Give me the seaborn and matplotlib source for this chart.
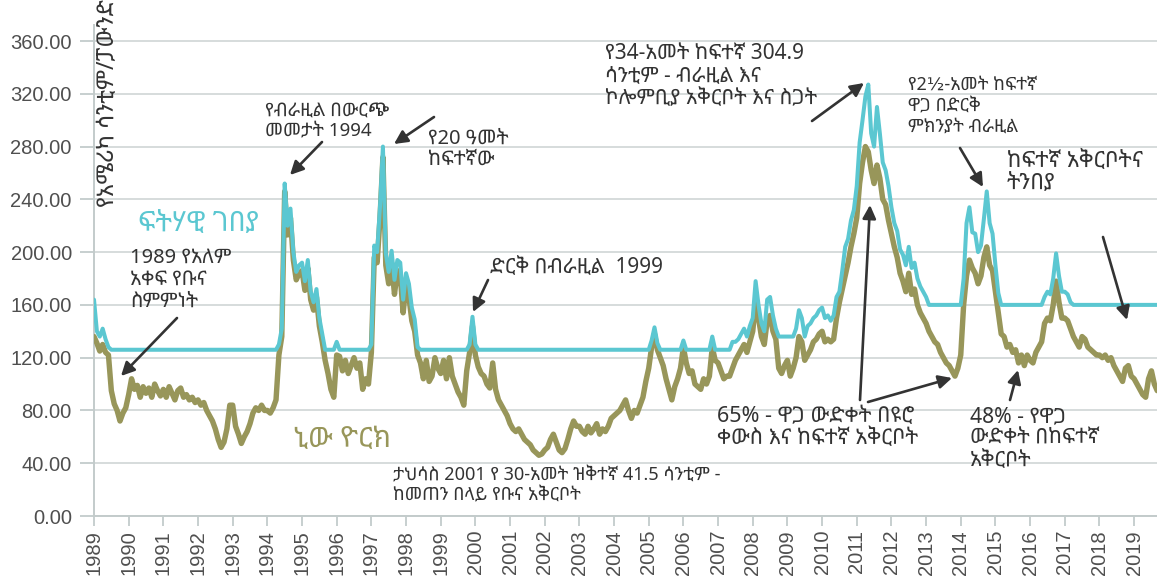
import numpy as np
import pandas as pd
import matplotlib
matplotlib.use("Agg")
import matplotlib.pyplot as plt
import seaborn as sns
from matplotlib import font_manager as fm
from matplotlib.ft2font import FT2Font

# ---------------- data (US cents / lb, monthly from Jan 1989) ----------------
start_year = 1989
ny_cents = [
    136, 131, 125, 130, 124, 122, 95, 85, 80, 72, 78, 82,          # 1989
    92, 104, 96, 99, 90, 98, 93, 97, 90, 100, 95, 91,              # 1990
    96, 90, 98, 93, 88, 95, 97, 90, 92, 88, 90, 86,                # 1991
    88, 84, 86, 80, 76, 72, 66, 58, 52, 56, 66, 84,                # 1992
    84, 68, 62, 55, 60, 64, 70, 78, 82, 80, 84, 80,                # 1993
    80, 78, 82, 88, 122, 136, 246, 213, 226, 194, 179, 184,        # 1994
    186, 171, 188, 164, 156, 166, 144, 132, 118, 108, 96, 90,      # 1995
    122, 121, 110, 118, 108, 114, 120, 112, 116, 96, 104, 100,     # 1996
    124, 196, 192, 226, 272, 190, 176, 192, 168, 186, 182, 154,    # 1997
    176, 166, 148, 140, 122, 116, 104, 118, 102, 106, 120, 112,    # 1998
    108, 118, 104, 120, 106, 100, 94, 90, 84, 110, 124, 144,       # 1999
    122, 113, 108, 106, 100, 97, 116, 96, 88, 84, 80, 76,          # 2000
    70, 66, 64, 66, 62, 58, 56, 54, 50, 48, 46, 47,                # 2001
    50, 52, 58, 62, 56, 50, 48, 51, 58, 66, 72, 68,                # 2002
    68, 64, 62, 68, 63, 66, 70, 62, 66, 64, 68, 74,                # 2003
    76, 78, 80, 84, 88, 80, 74, 80, 78, 84, 90, 102,               # 2004
    112, 128, 138, 126, 120, 114, 104, 96, 88, 98, 104, 112,       # 2005
    128, 116, 108, 110, 100, 98, 96, 104, 100, 106, 128, 118,      # 2006
    116, 110, 104, 106, 106, 112, 118, 122, 126, 130, 124, 132,    # 2007
    140, 162, 150, 136, 130, 148, 152, 140, 134, 112, 108, 114,    # 2008
    118, 106, 112, 120, 136, 132, 118, 122, 126, 132, 134, 138,    # 2009
    140, 132, 134, 132, 134, 150, 162, 172, 182, 192, 204, 214,    # 2010
    226, 252, 268, 280, 276, 262, 252, 266, 256, 240, 236, 224,    # 2011
    214, 204, 196, 184, 178, 170, 184, 168, 172, 160, 154, 150,    # 2012
    146, 140, 136, 132, 130, 124, 120, 116, 114, 110, 106, 112,    # 2013
    122, 160, 182, 194, 188, 184, 176, 182, 196, 204, 190, 186,    # 2014
    170, 154, 138, 136, 128, 130, 124, 126, 116, 122, 114, 122,    # 2015
    118, 116, 124, 128, 132, 146, 150, 148, 160, 178, 162, 150,    # 2016
    150, 148, 142, 136, 132, 128, 136, 134, 128, 126, 124, 122,    # 2017
    122, 120, 122, 118, 120, 114, 110, 106, 102, 112, 114, 106,    # 2018
    104, 100, 96, 92, 90, 104, 110, 100, 95,                       # 2019
]
fairtrade_cents = [
    164, 140, 136, 142, 134, 128, 126, 126, 126, 126, 126, 126,    # 1989
    126, 126, 126, 126, 126, 126, 126, 126, 126, 126, 126, 126,    # 1990
    126, 126, 126, 126, 126, 126, 126, 126, 126, 126, 126, 126,    # 1991
    126, 126, 126, 126, 126, 126, 126, 126, 126, 126, 126, 126,    # 1992
    126, 126, 126, 126, 126, 126, 126, 126, 126, 126, 126, 126,    # 1993
    126, 126, 126, 126, 130, 142, 252, 220, 233, 200, 185, 190,    # 1994
    192, 178, 194, 170, 162, 172, 150, 138, 126, 126, 126, 126,    # 1995
    132, 126, 126, 126, 126, 126, 126, 126, 126, 126, 126, 126,    # 1996
    130, 205, 200, 235, 280, 199, 185, 201, 179, 194, 192, 164,    # 1997
    184, 176, 158, 149, 128, 126, 126, 126, 126, 126, 126, 126,    # 1998
    126, 126, 126, 126, 126, 126, 126, 126, 126, 126, 130, 151,    # 1999
    130, 126, 126, 126, 126, 126, 126, 126, 126, 126, 126, 126,    # 2000
    126, 126, 126, 126, 126, 126, 126, 126, 126, 126, 126, 126,    # 2001
    126, 126, 126, 126, 126, 126, 126, 126, 126, 126, 126, 126,    # 2002
    126, 126, 126, 126, 126, 126, 126, 126, 126, 126, 126, 126,    # 2003
    126, 126, 126, 126, 126, 126, 126, 126, 126, 126, 126, 126,    # 2004
    126, 133, 143, 131, 126, 126, 126, 126, 126, 126, 126, 126,    # 2005
    133, 126, 126, 126, 126, 126, 126, 126, 126, 126, 136, 126,    # 2006
    126, 126, 126, 126, 126, 132, 132, 134, 138, 142, 136, 144,    # 2007
    150, 178, 160, 146, 140, 164, 166, 152, 142, 136, 136, 136,    # 2008
    136, 136, 136, 142, 156, 150, 136, 144, 146, 150, 152, 156,    # 2009
    158, 150, 152, 148, 152, 166, 170, 186, 204, 210, 224, 232,    # 2010
    250, 283, 300, 318, 327, 290, 280, 310, 290, 268, 262, 250,    # 2011
    234, 222, 216, 202, 198, 190, 204, 188, 192, 180, 174, 170,    # 2012
    166, 160, 160, 160, 160, 160, 160, 160, 160, 160, 160, 160,    # 2013
    160, 180, 222, 234, 215, 214, 200, 205, 225, 246, 222, 214,    # 2014
    190, 169, 160, 160, 160, 160, 160, 160, 160, 160, 160, 160,    # 2015
    160, 160, 160, 160, 160, 166, 170, 168, 180, 199, 182, 170,    # 2016
    170, 168, 162, 160, 160, 160, 160, 160, 160, 160, 160, 160,    # 2017
    160, 160, 160, 160, 160, 160, 160, 160, 160, 160, 160, 160,    # 2018
    160, 160, 160, 160, 160, 160, 160, 160, 160,                   # 2019
]
year_ticks = list(range(1989, 2020))
value_ticks = [0, 40, 80, 120, 160, 200, 240, 280, 320, 360]

label_ny = "ኒው ዮርክ"
label_ft = "ፍትሃዊ ገበያ"
y_label = "የአሜሪካ ሳንቲም/ፓውንድ"

# ---------------- fonts ----------------
def find_ethiopic_font():
    cands = []
    for path in sorted(fm.findSystemFonts()):
        try:
            ft = FT2Font(path)
            if ft.get_char_index(0x12A0) and ft.get_char_index(0x1275) and ft.get_char_index(0x12E8):
                name = fm.FontProperties(fname=path).get_name()
                cands.append(name)
        except Exception:
            continue
    def rank(n):
        low = n.lower()
        if "mono" in low:
            return 3
        if "sans" in low:
            return 0
        if "serif" in low:
            return 1
        return 2
    cands.sort(key=rank)
    return cands[0] if cands else None

sns.set_theme(style="white")
eth = find_ethiopic_font()
fam = ([eth] if eth else []) + ["DejaVu Sans"]
plt.rcParams["font.family"] = fam

OLIVE = "#98965a"
CYAN = "#5bc7d1"
TXT = "#333333"
GRID = "#cfd6d6"

# ---------------- frame ----------------
months = pd.date_range(f"{start_year}-01-01", periods=len(ny_cents), freq="MS")
dec_year = months.year + (months.month - 1) / 12.0
df = pd.DataFrame({"year": dec_year, "ny": ny_cents, "ft": fairtrade_cents})

W, H = 1157, 586
fig = plt.figure(figsize=(W / 100, H / 100), dpi=100)
ax = fig.add_axes([94 / W, 70 / H, 1063 / W, 491 / H])

PX_YEAR = 34.67
PX_VAL = 1.3194
ax.set_xlim(1989, 1989 + 1063 / PX_YEAR)
ax.set_ylim(0, 491 / PX_VAL)

sns.lineplot(data=df, x="year", y="ny", color=OLIVE, linewidth=3.9, ax=ax, zorder=3)
sns.lineplot(data=df, x="year", y="ft", color=CYAN, linewidth=2.9, ax=ax, zorder=4)

ax.set_xlabel("")
ax.set_ylabel("")
ax.grid(axis="y", color=GRID, linewidth=1.2, zorder=0)
ax.grid(axis="x", visible=False)
for s in ["top", "right"]:
    ax.spines[s].set_visible(False)
for s in ["left", "bottom"]:
    ax.spines[s].set_color("#c3cbcb")
    ax.spines[s].set_linewidth(1.4)

ax.set_yticks(value_ticks)
ax.set_yticklabels([f"{v:.2f}" for v in value_ticks], fontfamily="Liberation Sans",
                   fontsize=14.5, color="#4f4f4f")
ax.set_xticks(year_ticks)
ax.set_xticklabels([str(y) for y in year_ticks], fontfamily="Liberation Sans",
                   fontsize=14.5, color="#4f4f4f", rotation=90)
ax.tick_params(axis="y", left=True, length=10, width=1.3, color="#c3cbcb", pad=6)
ax.tick_params(axis="x", bottom=True, length=7, width=1.3, color="#c3cbcb", pad=3)

# ---------------- annotations (pixel helper) ----------------
def P(x, y):
    return (1989 + (x - 94) / PX_YEAR, (516 - y) / PX_VAL)

def note(x, y, s, size=13, color=TXT, ls=1.1):
    ax.text(*P(x, y), s, fontsize=size, color=color, ha="left", va="top",
            linespacing=ls, zorder=6)

def arrow(tail, tip):
    ax.annotate("", xy=P(*tip), xytext=P(*tail),
                arrowprops=dict(arrowstyle="-|>", color=TXT, lw=1.9,
                                mutation_scale=20, shrinkA=0, shrinkB=0),
                zorder=7)

note(138, 210, label_ft, size=20, color=CYAN)
note(293, 425, label_ny, size=20.5, color=OLIVE)

note(130, 248, "1989 የአለም\nአቀፍ የቡና\nስምምነት", size=14.5, ls=1.12)
arrow((177, 318), (121, 376))

note(265, 102, "የብራዚል በውርጭ\nመመታት 1994", size=13.5, ls=1.1)
arrow((322, 142), (290, 175))

note(428, 129, "የ20 ዓመት\nከፍተኛው", size=14.5, ls=1.07)
arrow((434, 117), (394, 144))

note(490, 257, "ድርቅ በብራዚል  1999", size=15)
arrow((488, 280), (473, 312))

note(393, 467, "ታህሳስ 2001 የ 30-አመት ዝቅተኛ 41.5 ሳንቲም -\nከመጠን በላይ የቡና አቅርቦት", size=13, ls=1.12)

note(605, 43, "የ34-አመት ከፍተኛ 304.9\nሳንቲም - ብራዚል እና\nኮሎምቢያ አቅርቦት እና ስጋት", size=15, ls=1.1)
arrow((812, 121), (864, 83))

note(908, 76, "የ2½-አመት ከፍተኛ\nዋጋ በድርቅ\nምክንያት ብራዚል", size=13, ls=1.22)
arrow((960, 148), (983, 187))

note(1007, 151, "ከፍተኛ አቅርቦትና\nትንበያ", size=16, ls=1.03)
arrow((1103, 237), (1127, 320))

note(717, 406, "65% - ዋጋ ውድቀት በዩሮ\nቀውስ እና ከፍተኛ አቅርቦት", size=15.5, ls=1.05)
arrow((860, 400), (870, 205))
arrow((868, 402), (952, 378))

note(970, 406, "48% - የዋጋ\nውድቀት በከፍተኛ\nአቅርቦት", size=15.2, ls=1.05)
arrow((1010, 400), (1018, 370))

fig.text(108 / W, 1 - 207 / H, y_label, rotation=90, fontsize=16.5, color=TXT,
         ha="center", va="bottom")

fig.savefig("out.png", dpi=100)
